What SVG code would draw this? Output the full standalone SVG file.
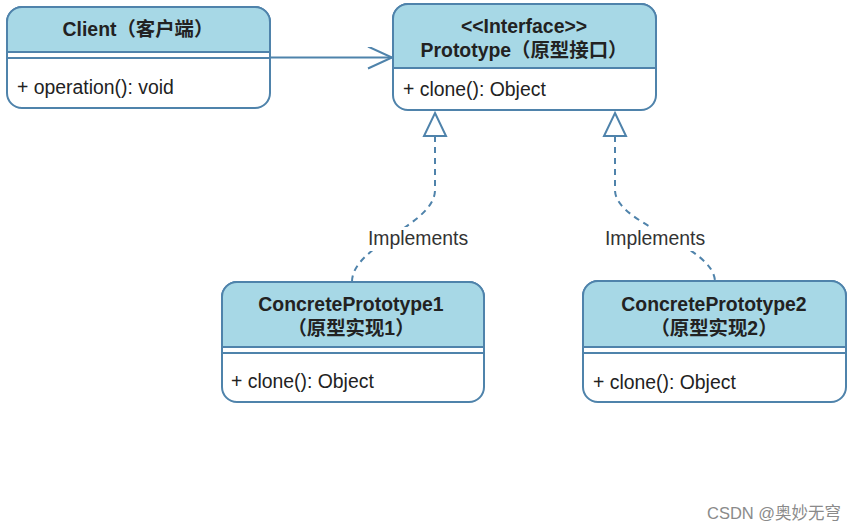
<svg xmlns="http://www.w3.org/2000/svg" width="857" height="531" viewBox="0 0 857 531">
<style>
.bg{fill:#ffffff;stroke:#4f83ab;stroke-width:2}
.hd{fill:#a7d8e6;stroke:#4f83ab;stroke-width:2}
.ln{stroke:#4f83ab;stroke-width:2;fill:none}
.tri{fill:#ffffff;stroke:#4f83ab;stroke-width:2}
.t{font-family:"Liberation Sans","Noto Sans CJK SC",sans-serif;font-size:19.4px;fill:#222}
.b{font-weight:bold;text-anchor:middle}
.dash{stroke:#4f83ab;stroke-width:2;fill:none;stroke-dasharray:6 5}
.lbl{font-family:"Liberation Sans",sans-serif;font-size:19.4px;fill:#333;text-anchor:middle}
.wm{font-family:"Liberation Sans","Noto Sans CJK SC",sans-serif;font-size:16.5px;fill:#8a8a8a}
</style>
<defs>
<marker id="open" markerWidth="30" markerHeight="26" refX="25" refY="11" orient="auto" markerUnits="userSpaceOnUse">
<path d="M1,0 L25,11 L1,22" fill="none" stroke="#4f83ab" stroke-width="2"/>
</marker>
</defs>

<g id="connectors">
<line x1="270" y1="57.5" x2="392" y2="57.5" class="ln" marker-end="url(#open)"/>
<path d="M435,136 L435,190 C435,225 352,245 352,282" class="dash"/>
<path d="M615,136 L615,190 C615,225 715,245 715,282" class="dash"/>
<path d="M435,113 L446,136 L424,136 Z" class="tri"/>
<path d="M615,113 L626,136 L604,136 Z" class="tri"/>
<rect x="364" y="227" width="108" height="24" fill="#ffffff"/>
<rect x="600" y="227" width="110" height="24" fill="#ffffff"/>
<text x="418" y="245" class="lbl">Implements</text>
<text x="655" y="245" class="lbl">Implements</text>
</g>

<g id="client">
<rect x="7" y="7" width="263" height="101" rx="15" class="bg"/>
<path d="M7,52 L7,22 A15,15 0 0 1 22,7 L255,7 A15,15 0 0 1 270,22 L270,52 Z" class="hd"/>
<line x1="7" y1="58" x2="270" y2="58" class="ln"/>
<text x="138" y="36" class="t b">Client（客户端）</text>
<text x="17" y="94" class="t">+ operation(): void</text>
</g>

<g id="prototype">
<rect x="393" y="4" width="263" height="106" rx="15" class="bg"/>
<path d="M393,68 L393,19 A15,15 0 0 1 408,4 L641,4 A15,15 0 0 1 656,19 L656,68 Z" class="hd"/>
<text x="524" y="33" class="t b">&lt;&lt;Interface&gt;&gt;</text>
<text x="524" y="57" class="t b">Prototype（原型接口）</text>
<text x="403" y="96" class="t">+ clone(): Object</text>
</g>

<g id="concrete1">
<rect x="222" y="282" width="262" height="120" rx="15" class="bg"/>
<path d="M222,347 L222,297 A15,15 0 0 1 237,282 L469,282 A15,15 0 0 1 484,297 L484,347 Z" class="hd"/>
<line x1="222" y1="353" x2="484" y2="353" class="ln"/>
<text x="351" y="311" class="t b">ConcretePrototype1</text>
<text x="351" y="335" class="t b">（原型实现1）</text>
<text x="231" y="388" class="t">+ clone(): Object</text>
</g>

<g id="concrete2">
<rect x="583" y="281" width="263" height="121" rx="15" class="bg"/>
<path d="M583,347 L583,296 A15,15 0 0 1 598,281 L831,281 A15,15 0 0 1 846,296 L846,347 Z" class="hd"/>
<line x1="583" y1="353" x2="846" y2="353" class="ln"/>
<text x="714" y="311" class="t b">ConcretePrototype2</text>
<text x="714" y="335" class="t b">（原型实现2）</text>
<text x="593" y="389" class="t">+ clone(): Object</text>
</g>

<text x="707" y="519" class="wm">CSDN @奥妙无穹</text>
</svg>
